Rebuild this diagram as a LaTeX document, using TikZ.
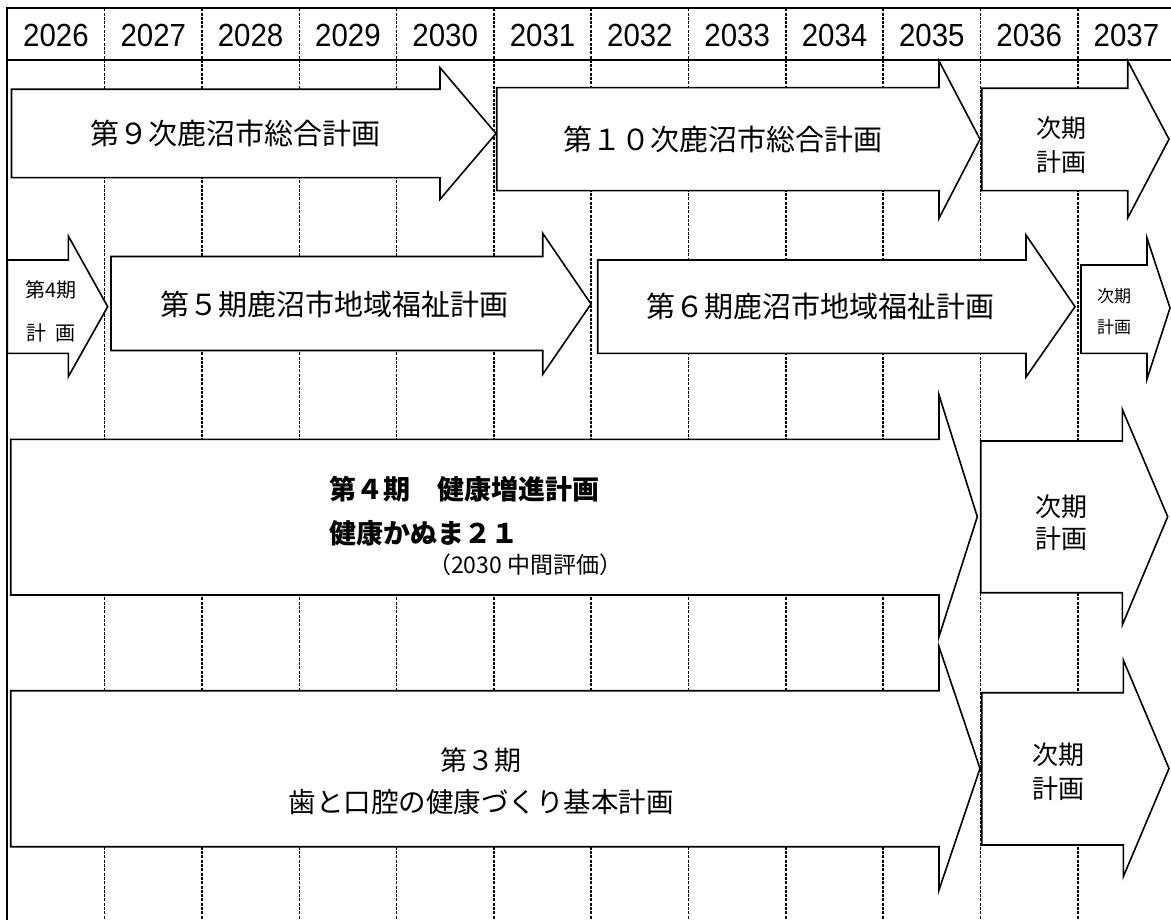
\documentclass[tikz,border=0pt]{standalone}
\usepackage{fontspec}
\setmainfont{Liberation Sans}
\newfontfamily\yrfont[FakeStretch=0.92]{Liberation Sans}
\newfontfamily\jp{Noto Sans CJK JP}
\newcommand\planarrow[8]{\draw[arrowbox] (#1,#2) -- (#4,#2) -- (#4,#5) -- (#7,#8) -- (#4,#6) -- (#4,#3) -- (#1,#3) -- cycle;}
\begin{document}
\begin{tikzpicture}[x=1pt,y=-1pt,
  frameline/.style={line width=2.2pt, black, line join=miter},
  gridline/.style={line width=1.5pt, black, dash pattern=on 3pt off 1.3pt},
  arrowbox/.style={draw=black, fill=white, line width=1.6pt, line join=miter},
  yr/.style={font=\yrfont\fontsize{32}{32}\selectfont, inner sep=0pt},
  big/.style={font=\jp\fontsize{29}{29}\selectfont, inner sep=0pt},
  nxt/.style={inner sep=0pt, align=center},
]
\useasboundingbox (0,0) rectangle (1171,920);
\fill[white] (0,0) rectangle (1171,920);
% dashed year dividers
\foreach \k in {1,...,11} {
  \draw[gridline] ({7.3+97.32*\k},8.3) -- ({7.3+97.32*\k},920);
}
% year labels
\foreach \yy [count=\i from 0] in {2026,...,2037} {
  \node[yr] (y\yy) at ({7.3+97.32*(\i+0.5)},35) {\yy};
}
% row 1
\planarrow{11.5}{89.3}{177.7}{440}{67.7}{199.3}{496}{133.5}
\planarrow{496.7}{87.7}{190.7}{939}{61}{218.3}{980}{139.2}
\planarrow{981.7}{88.3}{190.7}{1127.7}{61}{218}{1169}{139.2}
\node[big] (p9) at (235,133.5) {第９次鹿沼市総合計画};
\node[big] (p10) at (723,139) {第１０次鹿沼市総合計画};
\node[nxt, font=\jp\fontsize{25}{34}\selectfont] (n1) at (1061,144.7) {次期\\計画};
% row 2
\planarrow{7.3}{260}{353.3}{68.3}{236}{376.7}{107.7}{306.7}
\planarrow{111}{256.5}{350.5}{542.7}{233.3}{374.3}{591}{304}
\planarrow{597.7}{260}{353.3}{1026}{235}{377}{1075}{306.7}
\planarrow{1081}{265}{353.3}{1147}{238}{379}{1170}{308}
\node[nxt, font=\jp\fontsize{20}{43}\selectfont] (w4) at (51,311.5) {第4期\\計\hspace{0.5em}画};
\node[big] (w5) at (334,304.5) {第５期鹿沼市地域福祉計画};
\node[big] (w6) at (820,306.7) {第６期鹿沼市地域福祉計画};
\node[nxt, font=\jp\fontsize{17}{31}\selectfont] (n2) at (1114,311.5) {次期\\計画};
% row 3
\planarrow{10.7}{439.3}{595}{939}{395}{636.7}{977.3}{516.7}
\planarrow{980.7}{441}{592.7}{1122.3}{409.3}{625}{1167.7}{516.7}
\node[inner sep=0pt, anchor=west, font=\jp\bfseries\fontsize{27}{27}\selectfont] (h1) at (329,489) {第４期　健康増進計画};
\node[inner sep=0pt, anchor=west, font=\jp\bfseries\fontsize{27}{27}\selectfont] (h2) at (329,533) {健康かぬま２１};
\node[inner sep=0pt, anchor=west, font=\jp\fontsize{23}{23}\selectfont] (h3) at (428,565) {（2030 中間評価）};
\node[nxt, font=\jp\fontsize{26}{31.6}\selectfont] (n3) at (1061,522.5) {次期\\計画};
% row 4
\planarrow{10.7}{690.7}{846.7}{939}{646.7}{890}{980}{768.5}
\planarrow{981.7}{692.7}{845}{1123.3}{660}{876.7}{1169}{768.5}
\node[inner sep=0pt, font=\jp\fontsize{27}{27}\selectfont] (d1) at (481,760) {第３期};
\node[inner sep=0pt, font=\jp\fontsize{27.5}{27.5}\selectfont] (d2) at (481,802) {歯と口腔の健康づくり基本計画};
\node[nxt, font=\jp\fontsize{26}{33.3}\selectfont] (n4) at (1058,771.7) {次期\\計画};
% frame
\draw[frameline] (1171,8.3) -- (7.3,8.3) -- (7.3,920);
\draw[frameline] (7.3,60) -- (1171,60);
\end{tikzpicture}
\end{document}
